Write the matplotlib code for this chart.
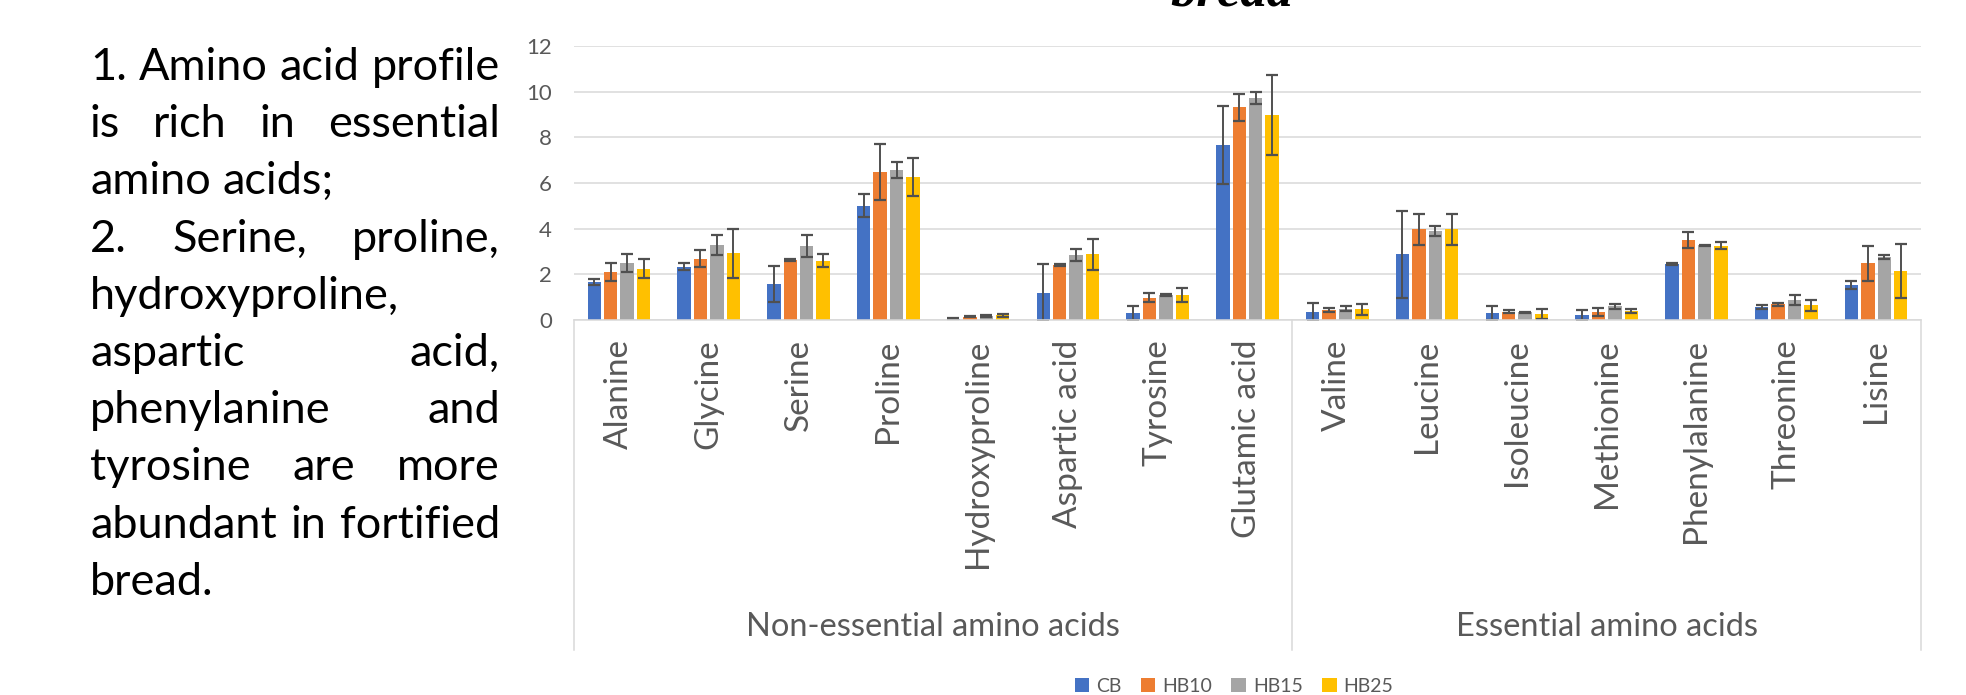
import numpy as np
import matplotlib
matplotlib.use("Agg")
import matplotlib.pyplot as plt
from matplotlib.transforms import blended_transform_factory

plt.rcParams["font.family"] = ["Lato", "DejaVu Sans"]

# ---- data ----
categories = ["Alanine", "Glycine", "Serine", "Proline", "Hydroxyproline",
              "Aspartic acid", "Tyrosine", "Glutamic acid",
              "Valine", "Leucine", "Isoleucine", "Methionine",
              "Phenylalanine", "Threonine", "Lisine"]
groups = ["Non-essential amino acids", "Essential amino acids"]
group_sizes = [8, 7]
series = ["CB", "HB10", "HB15", "HB25"]

cb = [1.65, 2.34, 1.58, 5.00, 0.05, 1.20, 0.30, 7.66,
      0.35, 2.87, 0.30, 0.22, 2.44, 0.56, 1.54]
hb10 = [2.10, 2.69, 2.64, 6.48, 0.15, 2.40, 0.98, 9.32,
        0.45, 3.98, 0.37, 0.36, 3.50, 0.68, 2.48]
hb15 = [2.51, 3.27, 3.24, 6.57, 0.17, 2.84, 1.10, 9.72,
        0.50, 3.90, 0.34, 0.61, 3.27, 0.88, 2.77]
hb25 = [2.25, 2.92, 2.60, 6.26, 0.20, 2.87, 1.10, 8.97,
        0.46, 3.98, 0.28, 0.38, 3.25, 0.64, 2.15]

cb_err = [0.13, 0.15, 0.79, 0.50, 0.02, 1.25, 0.30, 1.70,
          0.40, 1.90, 0.31, 0.23, 0.04, 0.08, 0.17]
hb10_err = [0.40, 0.37, 0.04, 1.21, 0.04, 0.04, 0.21, 0.59,
            0.08, 0.68, 0.07, 0.18, 0.35, 0.07, 0.77]
hb15_err = [0.40, 0.44, 0.50, 0.35, 0.06, 0.27, 0.03, 0.27,
            0.11, 0.22, 0.03, 0.11, 0.03, 0.22, 0.09]
hb25_err = [0.40, 1.08, 0.28, 0.82, 0.05, 0.66, 0.30, 1.74,
            0.23, 0.68, 0.22, 0.08, 0.15, 0.23, 1.18]

notes = [
    ("1. Amino acid profile", True),
    ("is rich in essential", True),
    ("amino acids;", False),
    ("2. Serine, proline,", True),
    ("hydroxyproline,", False),
    ("aspartic acid,", True),
    ("phenylanine and", True),
    ("tyrosine are more", True),
    ("abundant in fortified", True),
    ("bread.", False),
]

colors = ["#4472C4", "#ED7D31", "#A5A5A5", "#FFC000"]
grey_text = "#595959"
grid_col = "#D9D9D9"

W, H = 1966, 695
fig = plt.figure(figsize=(W / 100, H / 100), dpi=100)
ax = fig.add_axes([574 / W, 1 - 320 / H, (1921 - 574) / W, 274 / H])

x = np.arange(len(categories))
step = 0.183
width = 0.150
values = [cb, hb10, hb15, hb25]
errors = [cb_err, hb10_err, hb15_err, hb25_err]
for k, (name, vals, errs, col) in enumerate(zip(series, values, errors, colors)):
    ax.bar(x + (k - 1.5) * step, vals, width, yerr=errs, color=col, label=name,
           error_kw=dict(ecolor="#505050", elinewidth=1.4, capsize=4, capthick=1.6))

ax.set_xlim(-0.5, len(categories) - 0.5)
ax.set_ylim(0, 12)
ax.set_yticks(range(0, 13, 2))
ax.yaxis.grid(True, color=grid_col, linewidth=1.1)
ax.set_axisbelow(True)
for s in ["top", "right", "left"]:
    ax.spines[s].set_visible(False)
ax.spines["bottom"].set_color(grid_col)
ax.spines["bottom"].set_linewidth(1.1)
ax.tick_params(axis="y", length=0, pad=16, labelsize=16, labelcolor=grey_text)
ax.set_xticks(x)
ax.set_xticklabels(categories, rotation=90, fontsize=24, color=grey_text)
ax.tick_params(axis="x", length=0, pad=14)

# multi-level category axis
trans = blended_transform_factory(ax.transData, ax.transAxes)
bottom = -(650 - 320) / 274
edges = np.cumsum([0] + group_sizes) - 0.5
for e in edges:
    ax.plot([e, e], [0, bottom], transform=trans, color=grid_col,
            linewidth=1.1, clip_on=False)
for g, lo, hi in zip(groups, edges[:-1], edges[1:]):
    ax.text((lo + hi) / 2, -(627 - 320) / 274, g, transform=trans,
            ha="center", va="center", fontsize=23.5, color=grey_text)

fig.legend(loc="center", bbox_to_anchor=(1234 / W, 9 / H), ncol=4, frameon=False,
           fontsize=14, handlelength=0.75, handleheight=0.75,
           handletextpad=0.35, columnspacing=1.0, labelcolor=grey_text)

# title fragment cut off at the top
fig.text(1232 / W, 1 - 6 / H, "bread", ha="center", va="baseline",
         fontsize=38, fontweight="bold", fontstyle="italic",
         family=["Liberation Serif", "DejaVu Serif"])

# justified note on the left
fig.canvas.draw()
renderer = fig.canvas.get_renderer()
x0, x1 = 90, 500
for i, (line, justify) in enumerate(notes):
    y = 1 - (80 + i * 57.2) / H
    words = line.split(" ")
    txts = [fig.text(0, y, w, fontsize=32.5, color="black", va="baseline")
            for w in words]
    widths = [t.get_window_extent(renderer).width for t in txts]
    if justify and len(words) > 1:
        gap = max((x1 - x0 - sum(widths)) / (len(words) - 1), 6)
    else:
        gap = 12
    xp = x0
    for t, wd in zip(txts, widths):
        t.set_x(xp / W)
        xp += wd + gap

fig.savefig("out.png", dpi=100)
